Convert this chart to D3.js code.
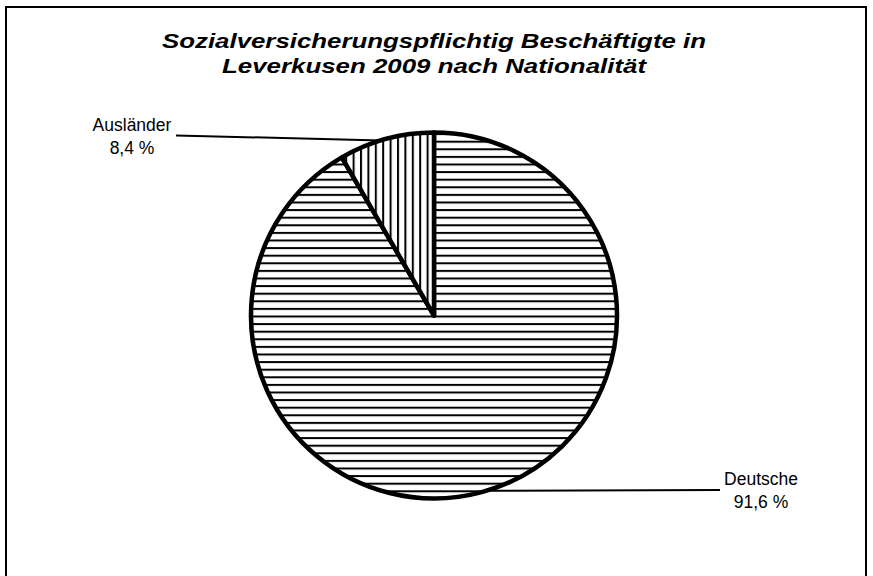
<!DOCTYPE html>
<html>
<head>
<meta charset="utf-8">
<script src="https://cdn.jsdelivr.net/npm/d3@7"></script>
<style>
  body { margin: 0; background: #fff; }
  text { font-family: "Liberation Sans", Arial, sans-serif; fill: #000; }
</style>
</head>
<body>
<div id="chart"></div>
<script>
  // Data
  var categories = ["Deutsche", "Ausländer"];
  var shares = [91.6, 8.4];
  var valueLabels = ["91,6 %", "8,4 %"];
  var titleLines = ["Sozialversicherungspflichtig Beschäftigte in", "Leverkusen 2009 nach Nationalität"];

  var W = 873, H = 576;
  var cx = 434, cy = 315.5, r = 183;

  var svg = d3.select("#chart").append("svg")
    .attr("width", W)
    .attr("height", H);

  // Hatch patterns (horizontal for Deutsche, vertical for Ausländer)
  var defs = svg.append("defs");
  var hp = defs.append("pattern")
    .attr("id", "hatch-h")
    .attr("patternUnits", "userSpaceOnUse")
    .attr("width", 8).attr("height", 7.6);
  hp.append("rect").attr("width", 8).attr("height", 7.6).attr("fill", "#fff");
  hp.append("rect").attr("y", 0).attr("width", 8).attr("height", 2).attr("fill", "#000");

  var vp = defs.append("pattern")
    .attr("id", "hatch-v")
    .attr("patternUnits", "userSpaceOnUse")
    .attr("width", 7.4).attr("height", 8);
  vp.append("rect").attr("width", 7.4).attr("height", 8).attr("fill", "#fff");
  vp.append("rect").attr("x", 0).attr("width", 2).attr("height", 8).attr("fill", "#000");

  // Outer frame
  svg.append("rect")
    .attr("x", 6).attr("y", 7)
    .attr("width", 860).attr("height", 580)
    .attr("fill", "none")
    .attr("stroke", "#000")
    .attr("stroke-width", 2);

  // Title (the original is drawn a bit wider than plain Arial)
  var titleWidths = [544, 424];
  svg.append("text")
    .attr("x", 434)
    .attr("y", 48)
    .attr("text-anchor", "middle")
    .style("font-size", "20.5px")
    .style("font-weight", "bold")
    .style("font-style", "italic")
    .selectAll("tspan")
    .data(titleLines)
    .enter().append("tspan")
    .attr("x", 434)
    .attr("dy", function(d, i) { return i ? 24.5 : 0; })
    .attr("textLength", function(d, i) { return titleWidths[i]; })
    .attr("lengthAdjust", "spacingAndGlyphs")
    .text(function(d) { return d; });

  var pie = d3.pie().sort(null).value(function(d) { return d; });
  var arcs = pie(shares);
  var arc = d3.arc().innerRadius(0).outerRadius(r);
  var fills = ["url(#hatch-h)", "url(#hatch-v)"];

  var g = svg.append("g").attr("transform", "translate(" + cx + "," + cy + ")");

  g.selectAll("path")
    .data(arcs)
    .enter().append("path")
    .attr("d", arc)
    .attr("fill", function(d, i) { return fills[i]; })
    .attr("stroke", "#000")
    .attr("stroke-width", 4.5)
    .attr("stroke-linejoin", "round");

  // Leader lines and labels: lx/ly = label end of leader, deg = where it meets the rim
  var labelPos = [
    { lx: 720, ly: 490, tx: 761, ty: 484.5, deg: 163.4 },  // Deutsche
    { lx: 176, ly: 135.5, tx: 132, ty: 131, deg: -16.9 }   // Ausländer
  ];

  labelPos.forEach(function(p, i) {
    var ang = p.deg * Math.PI / 180;
    var px = cx + r * Math.sin(ang), py = cy - r * Math.cos(ang);
    svg.append("line")
      .attr("x1", p.lx).attr("y1", p.ly)
      .attr("x2", px).attr("y2", py)
      .attr("stroke", "#000")
      .attr("stroke-width", 2);

    var t = svg.append("text")
      .attr("text-anchor", "middle")
      .style("font-size", "17.5px");
    t.append("tspan").attr("x", p.tx).attr("y", p.ty).text(categories[i]);
    t.append("tspan").attr("x", p.tx).attr("dy", 23.4).text(valueLabels[i]);
  });
</script>
</body>
</html>
